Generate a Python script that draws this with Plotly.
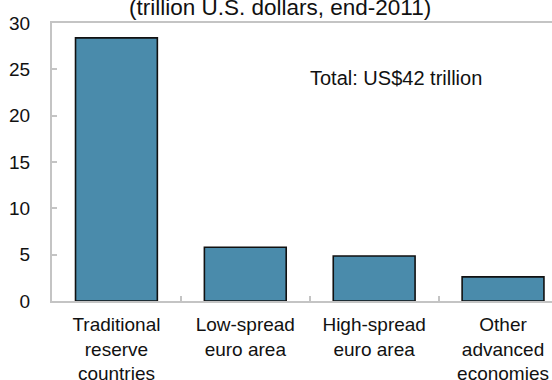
import plotly.graph_objects as go

categories = ["Traditional<br>reserve<br>countries", "Low-spread<br>euro area",
              "High-spread<br>euro area", "Other<br>advanced<br>economies"]
values = [28.4, 5.8, 4.85, 2.6]
y_ticks = [0, 5, 10, 15, 20, 25, 30]
title_text = "(trillion U.S. dollars, end-2011)"
total_text = "Total: US$42 trillion"

FONT = "Liberation Sans, Arial, sans-serif"
GRID = "#c4c4c4"

fig = go.Figure()
fig.add_trace(go.Bar(
    x=categories, y=values,
    marker=dict(color="#4a8bab", line=dict(color="#111111", width=1.6)),
    width=0.635,
))

fig.update_layout(
    width=552, height=380,
    margin=dict(l=52, r=0, t=23, b=79),
    paper_bgcolor="white", plot_bgcolor="white",
    showlegend=False,
    font=dict(family=FONT, size=19, color="#111111"),
    xaxis=dict(
        range=[-0.5, 3.38], showgrid=False, zeroline=False,
        showline=True, linecolor=GRID, linewidth=2, mirror=True,
        ticks="inside", ticklen=5, tickcolor=GRID, tickwidth=2,
        tickson="boundaries", layer="below traces", automargin=False,
        tickfont=dict(size=19), ticklabelstandoff=5,
    ),
    yaxis=dict(
        range=[0, 30], tickvals=y_ticks, showgrid=False, zeroline=False,
        showline=True, linecolor=GRID, linewidth=2, automargin=False,
        ticks="inside", ticklen=5, tickcolor=GRID, tickwidth=2,
        layer="below traces", tickfont=dict(size=19), ticklabelstandoff=16,
    ),
    annotations=[
        dict(text=total_text, x=2.17, y=24.1, xref="x", yref="y",
             showarrow=False, xanchor="center", yanchor="middle",
             font=dict(size=20)),
        dict(text=title_text, x=0.455, y=1, xref="paper", yref="paper",
             showarrow=False, xanchor="center", yanchor="bottom", yshift=1,
             font=dict(size=22.5)),
    ],
)

fig.write_html("out.html")
